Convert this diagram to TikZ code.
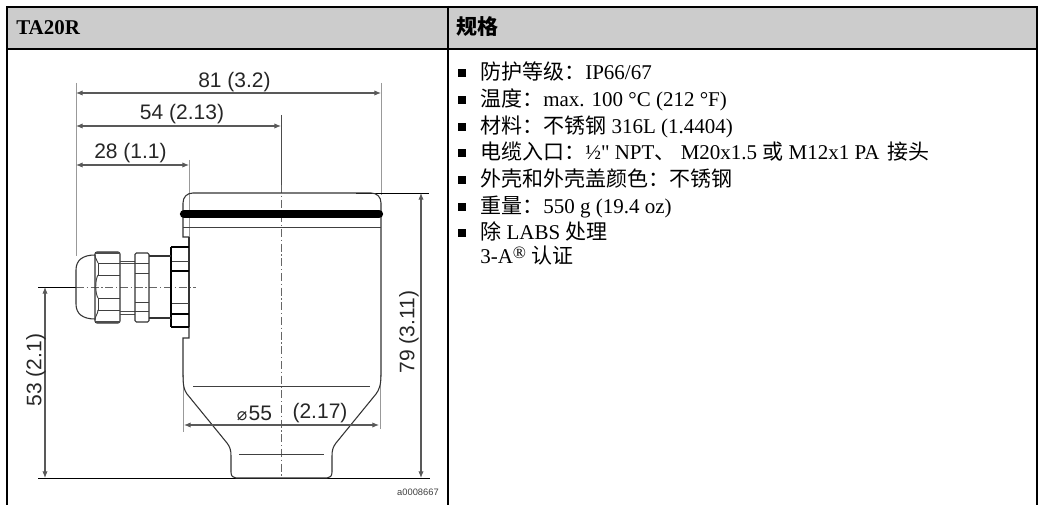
\documentclass[tikz,border=0pt]{standalone}
\usepackage{fontspec}
\setmainfont{Liberation Serif}
\setsansfont{Liberation Sans}
\newfontfamily\cjk{Noto Sans CJK SC}
\newfontfamily\plainserif{Liberation Serif}
\newfontfamily\symfont{DejaVu Sans}
\usetikzlibrary{arrows.meta}

\tikzset{
    header/.style={anchor=base west, font=\bfseries\fontsize{15.75}{18}\selectfont, inner sep=0pt},
    spec/.style={anchor=base west, font=\fontsize{15.75}{18}\selectfont, inner sep=0pt},
    dimtext/.style={font=\sffamily\fontsize{15.75}{18}\selectfont, inner sep=0pt, text=black!85},
    dimline/.style={{Latex[length=5pt,width=4pt]}-{Latex[length=5pt,width=4pt]}, line width=0.8pt, draw=black!65},
    extline/.style={line width=0.7pt, draw=black!40},
    outline/.style={line width=0.8pt, draw=black!80},
    innerline/.style={line width=0.7pt, draw=black!75},
    thickline/.style={line width=1.4pt, draw=black},
    centerline/.style={line width=0.4pt, draw=black!60, dash pattern=on 6pt off 2pt on 1pt off 2pt},
    bullet/.style={fill=black, minimum size=5.5pt, inner sep=0pt},
}

\begin{document}
\begin{tikzpicture}[x=0.75pt, y=-0.75pt]

    % Page
    \useasboundingbox (0, 0) rectangle (1044, 505);

    % Table
    \fill[black!20] (7, 7) rectangle (1037, 49);
    \draw[line width=0.8pt] (7, 505) -- (7, 7) -- (1037, 7) -- (1037, 505);
    \draw[line width=0.8pt] (448, 6) -- (448, 505);
    \draw[line width=0.8pt] (7, 49) -- (1037, 49);
    \node[header] (head1) at (16, 35) {TA20R};
    \node[header] (head2) at (456, 35) {\cjk 规格};

    % Specification list
    \def\cjktext#1{{\cjk\fontsize{15.75}{18}\selectfont #1}}
    \foreach \y/\name/\txt in {
        80/spec1/{\cjktext{防护等级：}IP66/67},
        107/spec2/{\cjktext{温度：}max. 100 °C (212 °F)},
        134/spec3/{\cjktext{材料：不锈钢} 316L (1.4404)},
        160/spec4/{\cjktext{电缆入口：}½{\plainserif"} NPT\cjktext{、} M20x1.5 \cjktext{或} M12x1 PA\hspace{2pt} \cjktext{接头}},
        187/spec5/{\cjktext{外壳和外壳盖颜色：不锈钢}},
        214/spec6/{\cjktext{重量：}550 g (19.4 oz)},
        240/spec7/{\cjktext{除} LABS \cjktext{处理}}}
    {
        \node[spec] (\name) at (480, \y) {\txt};
        \node[bullet] at (462, \y-7) {};
    }
    \node[spec] (spec8) at (480, 264) {3-A{\fontsize{13}{13}\selectfont\raisebox{4pt}{®}} \cjktext{认证}};

    % Reference points of the drawing
    \coordinate (top) at (281, 193);
    \coordinate (bottom) at (281, 478);

    % Extension lines
    \draw[extline] (76, 83) -- (76, 256);
    \draw[extline] (381, 83) -- (381, 195);
    \draw[extline] (189, 160) -- (189, 237);
    \draw[line width=0.6pt, draw=black!70] (281, 115) -- (281, 185);
    \draw[extline] (183, 375) -- (183, 432);
    \draw[extline] (380, 375) -- (380, 429);
    \draw[line width=0.6pt] (356, 193) -- (429, 193);
    \draw[line width=0.6pt] (38, 287) -- (76, 287);
    \draw[line width=0.6pt] (38, 478) -- (430, 478);

    % Center lines
    \draw[centerline] (281, 185) -- (bottom);
    \draw[centerline] (76, 287) -- (196, 287);

    % Housing
    \draw[outline] (189, 237) -- (183, 237) -- (183, 227) -- (183, 203)
        .. controls (183, 197) and (187, 193) .. (193, 193) -- (371, 193)
        .. controls (377, 193) and (381, 197) .. (381, 203) -- (381, 375)
        .. controls (381, 385) and (379, 390) .. (376, 394) -- (336, 443)
        .. controls (333, 447) and (332, 450) .. (332, 456) -- (332, 472)
        .. controls (332, 476) and (330, 478) .. (327, 478) -- (236, 478)
        .. controls (233, 478) and (231, 476) .. (231, 472) -- (231, 456)
        .. controls (231, 450) and (230, 447) .. (227, 443) -- (187, 394)
        .. controls (184, 390) and (183, 385) .. (183, 375) -- (183, 338)
        -- (189, 338) -- (189, 327);
    \draw[outline] (189, 237) -- (189, 247);
    \draw[innerline] (183, 227) -- (381, 227);
    \draw[innerline] (193, 386) -- (370, 386);
    \draw[innerline] (239, 454) -- (324, 454);
    \draw[line width=6.2pt, line cap=round] (184, 214) -- (379, 214);

    % Flange
    \draw[outline] (189, 247) -- (189, 327);
    \draw[thickline] (171, 247) -- (171, 327);
    \foreach \y in {247, 271, 314, 327}
        \draw[thickline] (171, \y) -- (189, \y);
    \foreach \y in {261, 303}
        \draw[innerline] (172, \y) -- (189, \y);

    % Cable gland
    \draw[outline] (95, 255) .. controls (83, 255) and (76, 260) .. (76, 270)
        -- (76, 304) .. controls (76, 314) and (83, 319) .. (95, 319);
    \draw[outline, rounded corners=1.5pt] (95, 252) rectangle (120, 323);
    \draw[line width=1.6pt, draw=black!70] (96, 253) -- (120, 253);
    \draw[line width=1.6pt, draw=black!70] (96, 322) -- (120, 322);
    \foreach \y in {263, 275, 298, 310}
        \draw[innerline] (98, \y) -- (120, \y);
    \draw[innerline] (98, 263) -- (98, 275);
    \draw[innerline] (98, 298) -- (98, 310);
    \draw[innerline] (95, 255) .. controls (95, 259) and (98, 261) .. (98, 263);
    \draw[innerline] (98, 275) .. controls (95, 280) and (95, 293) .. (98, 298);
    \draw[innerline] (98, 310) .. controls (98, 314) and (95, 316) .. (95, 320);
    \foreach \y in {261, 263, 311, 314}
        \draw[line width=0.6pt, draw=black!70] (120, \y) -- (135, \y);
    \draw[outline, rounded corners=1pt] (135, 253) rectangle (149, 322);
    \foreach \y in {263, 273, 302, 311}
        \draw[innerline] (135, \y) -- (149, \y);
    \draw[outline] (149, 256) -- (171, 256);
    \draw[outline] (149, 318) -- (171, 318);

    % Dimensions
    \draw[dimline] (76, 93) -- (381, 93);
    \draw[dimline] (76, 126) -- (281, 126);
    \draw[dimline] (76, 165) -- (189, 165);
    \draw[dimline] (184, 425) -- (379, 425);
    \draw[dimline] (45, 287) -- (45, 478);
    \draw[dimline] (421, 193) -- (421, 478);

    % Dimension labels
    \node[dimtext] (dim81) at (234.5, 82) {81 (3.2)};
    \node[dimtext] (dim54) at (182, 114) {54 (2.13)};
    \node[dimtext] (dim28) at (130.5, 153) {28 (1.1)};
    \node[dimtext, rotate=90] (dim53) at (36, 370) {53 (2.1)};
    \node[dimtext, rotate=90] (dim79) at (409, 332) {79 (3.11)};
    \node[dimtext] (dia55) at (254.5, 413) {{\symfont\fontsize{13}{14}\selectfont ⌀}\hspace{1pt}55};
    \node[dimtext] (dia217) at (320, 413) {(2.17)};
    \node[anchor=base east, inner sep=0pt, font=\sffamily\fontsize{7}{9}\selectfont, text=black!75] (ident) at (439, 495) {a0008667};

\end{tikzpicture}
\end{document}
